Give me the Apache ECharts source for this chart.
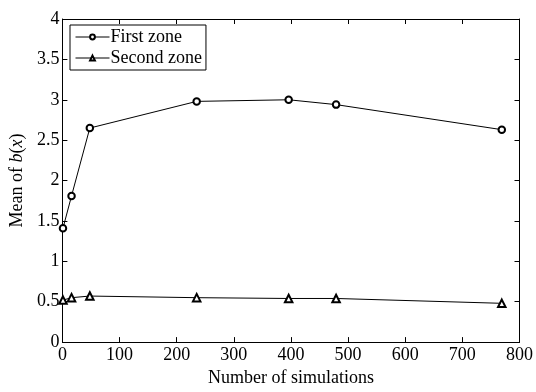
<!DOCTYPE html>
<html><head><meta charset="utf-8">
<script src="https://cdn.jsdelivr.net/npm/echarts@6/dist/echarts.min.js"></script>
<style>html,body{margin:0;padding:0;background:#fff}#c{width:536px;height:392px}</style>
</head><body><div id="c"></div>
<script>
const simulations = [1, 16, 48, 235, 396, 479, 769];
const firstZone = [1.41, 1.81, 2.65, 2.98, 3.0, 2.94, 2.63];
const secondZone = [0.52, 0.55, 0.57, 0.55, 0.54, 0.54, 0.48];
const xTicks = [0, 100, 200, 300, 400, 500, 600, 700, 800];
const yTicks = [0, 0.5, 1, 1.5, 2, 2.5, 3, 3.5, 4];

const font = 'Liberation Serif';
const chart = echarts.init(document.getElementById('c'), null, {renderer: 'canvas'});
const axBase = {
  axisLine: {show: true, onZero: false, lineStyle: {color: '#000', width: 1}},
  axisTick: {show: true, inside: true, length: 5, lineStyle: {color: '#000'}},
  splitLine: {show: false}
};
chart.setOption({
  animation: false,
  backgroundColor: '#fff',
  grid: {left: 60, right: 16, top: 19, bottom: 38, containLabel: false},
  legend: {
    orient: 'vertical', left: 70, top: 25,
    backgroundColor: '#fff', borderColor: '#000', borderWidth: 1,
    padding: [2, 4, 2, 5], itemGap: 1, itemWidth: 34, itemHeight: 6,
    itemStyle: {borderWidth: 0.8},
    lineStyle: {width: 1},
    textStyle: {fontFamily: font, fontSize: 18, color: '#000', lineHeight: 20, padding: [0, 0, 0, -4]},
    data: ['First zone', 'Second zone']
  },
  xAxis: [
    Object.assign({}, axBase, {
      type: 'value', min: xTicks[0], max: xTicks[xTicks.length - 1], interval: 100,
      name: 'Number of simulations', nameLocation: 'middle', nameGap: 21,
      nameTextStyle: {fontFamily: font, fontSize: 18, color: '#000'},
      axisLabel: {fontFamily: font, fontSize: 18, color: '#000', margin: 4}
    }),
    Object.assign({}, axBase, {
      type: 'value', position: 'top', min: xTicks[0], max: xTicks[xTicks.length - 1], interval: 100,
      axisLabel: {show: false}
    })
  ],
  yAxis: [
    Object.assign({}, axBase, {
      type: 'value', min: yTicks[0], max: yTicks[yTicks.length - 1], interval: 0.5,
      name: '{n|Mean of }{i|b}{n|(}{i|x}{n|)}', nameLocation: 'middle', nameGap: 34,
      nameTextStyle: {fontFamily: font, fontSize: 18, color: '#000',
        rich: {n: {fontFamily: font, fontSize: 18, color: '#000'},
               i: {fontFamily: font, fontSize: 18, color: '#000', fontStyle: 'italic'}}},
      axisLabel: {fontFamily: font, fontSize: 18, color: '#000', margin: 3}
    }),
    Object.assign({}, axBase, {
      type: 'value', position: 'right', min: yTicks[0], max: yTicks[yTicks.length - 1], interval: 0.5,
      axisLabel: {show: false}
    })
  ],
  series: [
    {
      name: 'First zone', type: 'line',
      data: simulations.map((x, i) => [x, firstZone[i]]),
      symbol: 'emptyCircle', symbolSize: 6.5,
      lineStyle: {color: '#000', width: 1},
      itemStyle: {color: '#000', borderColor: '#000', borderWidth: 0.8}
    },
    {
      name: 'Second zone', type: 'line',
      data: simulations.map((x, i) => [x, secondZone[i]]),
      symbol: 'emptyTriangle', symbolSize: 7.5,
      lineStyle: {color: '#000', width: 1},
      itemStyle: {color: '#000', borderColor: '#000', borderWidth: 0.8}
    }
  ]
});
</script></body></html>
